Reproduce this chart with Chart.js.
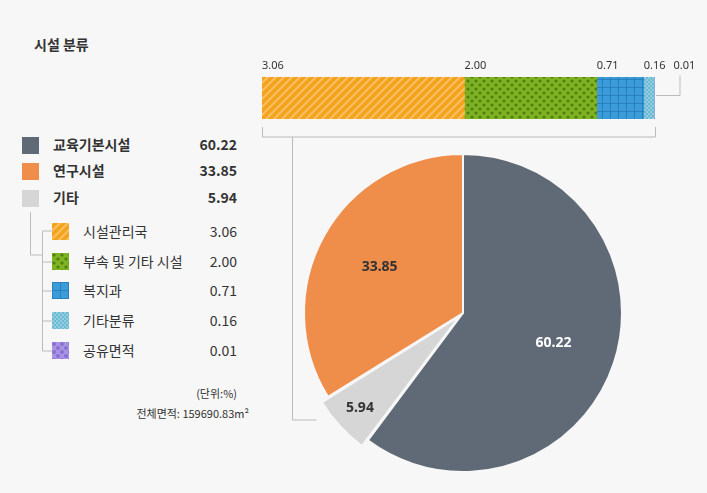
<!DOCTYPE html>
<html><head><meta charset="utf-8">
<script src="https://cdn.jsdelivr.net/npm/chart.js@4"></script>
<style>
body{margin:0;background:#f7f7f7;font-family:"Noto Sans CJK KR","Noto Sans",sans-serif;color:#333;}
#wrap{position:relative;width:707px;height:493px;overflow:hidden;}
.abs{position:absolute;}
.sq{position:absolute;width:17px;height:17px;}
.lbl{position:absolute;font-size:14px;line-height:17px;}
.val{position:absolute;font-size:14px;line-height:17px;right:470px;text-align:right;}
.b{font-weight:bold;}
</style></head><body>
<div id="wrap">
<div class="abs b" style="left:34px;top:34px;font-size:14px;">시설 분류</div>
<div id="legend"></div>
<div class="abs" style="right:470px;top:385px;font-size:11px;">(단위:%)</div>
<div class="abs" style="right:458px;top:405px;font-size:11px;white-space:nowrap;">전체면적: 159690.83m²</div>
<svg class="abs" style="left:0;top:0" width="707" height="493">
<g stroke="#bbb" fill="none" stroke-width="1">
<path d="M262.5 127v10h393v-10"/>
<path d="M292.5 137v283h24"/>
<path d="M656 95.5h24v-20"/>
<path d="M30.5 212v43h12v-24h10M42.5 255v96h10M42.5 262h10M42.5 291h10M42.5 321h10"/>
</g></svg>
<div class="abs" style="left:250px;top:55px;width:450px;height:70px;"><canvas id="bar"></canvas></div>
<div class="abs" style="left:293px;top:143px;width:340px;height:340px;"><canvas id="pie"></canvas></div>
</div>
<script>
const mainLabels = ['교육기본시설', '연구시설', '기타'];
const mainValues = [60.22, 33.85, 5.94];
const subLabels = ['시설관리국', '부속 및 기타 시설', '복지과', '기타분류', '공유면적'];
const subValues = [3.06, 2.00, 0.71, 0.16, 0.01];

const mainColors = ['#5f6a76', '#ef8d4a', '#d6d6d6'];

function pat(kind) {
  const c = document.createElement('canvas');
  const s = 8; c.width = s; c.height = s;
  const g = c.getContext('2d');
  if (kind === 0) {
    g.fillStyle = '#f5a21f'; g.fillRect(0,0,s,s);
    g.strokeStyle = '#f8c261'; g.lineWidth = 2;
    g.beginPath(); g.moveTo(0,s); g.lineTo(s,0); g.moveTo(-2,2); g.lineTo(2,-2); g.moveTo(s-2,s+2); g.lineTo(s+2,s-2); g.stroke();
  } else if (kind === 1) {
    g.fillStyle = '#7fb321'; g.fillRect(0,0,s,s);
    g.fillStyle = '#4f7f12';
    [[2,2],[6,6]].forEach(p => { g.beginPath(); g.arc(p[0],p[1],1.6,0,7); g.fill(); });
  } else if (kind === 2) {
    g.fillStyle = '#3a9cd8'; g.fillRect(0,0,s,s);
    g.fillStyle = '#2a7fbf'; g.fillRect(0,0,s,1); g.fillRect(0,0,1,s);
  } else if (kind === 3) {
    g.fillStyle = '#6cb9d4'; g.fillRect(0,0,s,s);
    g.fillStyle = '#92cde0';
    for (let i = 0; i < s; i += 2) for (let j = 0; j < s; j += 2) if ((i+j)%4===0) g.fillRect(i,j,2,2);
  } else {
    g.fillStyle = '#a895e2'; g.fillRect(0,0,s,s);
    g.fillStyle = '#8b6fd6';
    [[2,2],[6,6]].forEach(p => { g.beginPath(); g.arc(p[0],p[1],2,0,7); g.fill(); });
  }
  return c;
}
const subPatterns = [0,1,2,3,4].map(k => pat(k));
const tmp = document.createElement('canvas').getContext('2d');
const subFills = subPatterns.map(p => tmp.createPattern(p, 'repeat'));

// legend
let html = '';
const mainY = [137, 163, 190];
mainLabels.forEach((l, i) => {
  html += `<div class="sq" style="left:22px;top:${mainY[i]}px;background:${mainColors[i]}"></div>`;
  html += `<div class="lbl b" style="left:53px;top:${mainY[i]-1}px">${l}</div>`;
  html += `<div class="val b" style="top:${mainY[i]-1}px">${mainValues[i].toFixed(2)}</div>`;
});
const subY = [223, 253, 282, 312, 342];
subLabels.forEach((l, i) => {
  html += `<div class="sq" style="left:52px;top:${subY[i]}px;background:url(${subPatterns[i].toDataURL()})"></div>`;
  html += `<div class="lbl" style="left:83px;top:${subY[i]}px">${l}</div>`;
  html += `<div class="val" style="top:${subY[i]}px">${subValues[i].toFixed(2)}</div>`;
});
document.getElementById('legend').innerHTML = html;

const barLabels = {
  id: 'barLabels',
  afterDatasetsDraw(chart) {
    const ctx = chart.ctx;
    ctx.save();
    ctx.font = '11px "Noto Sans", sans-serif';
    ctx.fillStyle = '#333';
    ctx.textBaseline = 'bottom';
    let minX = 0;
    chart.data.datasets.forEach((ds, i) => {
      const el = chart.getDatasetMeta(i).data[0];
      const left = el.base;
      const txt = ds.data[0].toFixed(2);
      const w = ctx.measureText(txt).width;
      const x = Math.max(left, minX);
      ctx.fillText(txt, x, el.y - el.height / 2 - 6);
      minX = x + w + 8;
    });
    ctx.restore();
  }
};

new Chart('bar', {
  type: 'bar',
  data: {
    labels: ['기타'],
    datasets: subValues.map((v, i) => ({ label: subLabels[i], data: [v], backgroundColor: subFills[i], barThickness: 42 }))
  },
  options: {
    indexAxis: 'y', responsive: true, maintainAspectRatio: false, animation: false,
    layout: { padding: { left: 12, right: 45, top: 22, bottom: 6 } },
    scales: { x: { stacked: true, display: false, min: 0, max: mainValues[2] }, y: { stacked: true, display: false } },
    plugins: { legend: { display: false }, tooltip: { enabled: false } }
  },
  plugins: [barLabels]
});

const pieOrder = [0, 2, 1];
const pieLabels = {
  id: 'pieLabels',
  afterDatasetsDraw(chart) {
    const ctx = chart.ctx;
    const meta = chart.getDatasetMeta(0);
    ctx.save();
    ctx.font = 'bold 14px "Noto Sans", sans-serif';
    ctx.textAlign = 'center'; ctx.textBaseline = 'middle';
    meta.data.forEach((arc, i) => {
      const idx = pieOrder[i];
      const a = (arc.startAngle + arc.endAngle) / 2;
      const r = idx === 2 ? arc.outerRadius * 0.88 : arc.outerRadius * 0.6;
      ctx.fillStyle = idx === 0 ? '#fff' : '#333';
      ctx.fillText(mainValues[idx].toFixed(2), arc.x + Math.cos(a) * r, arc.y + Math.sin(a) * r);
    });
    ctx.restore();
  }
};

new Chart('pie', {
  type: 'pie',
  data: {
    labels: pieOrder.map(i => mainLabels[i]),
    datasets: [{
      data: pieOrder.map(i => mainValues[i]),
      backgroundColor: pieOrder.map(i => mainColors[i]),
      borderColor: '#f7f7f7', borderWidth: 2,
      offset: pieOrder.map(i => i === 2 ? 20 : 0)
    }]
  },
  options: {
    responsive: true, maintainAspectRatio: false, animation: false,
    layout: { padding: 0 },
    plugins: { legend: { display: false }, tooltip: { enabled: false } }
  },
  plugins: [pieLabels]
});
</script>
</body></html>
